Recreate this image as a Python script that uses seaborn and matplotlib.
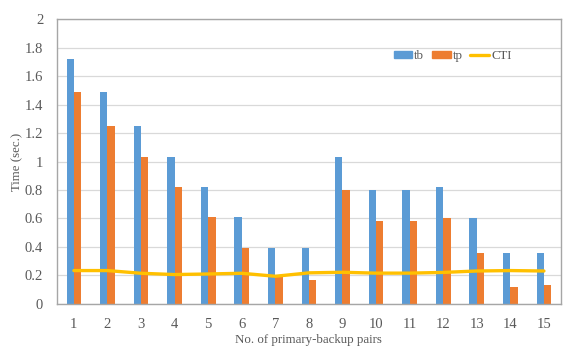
import matplotlib
matplotlib.use("Agg")
import matplotlib.pyplot as plt
import matplotlib.patches as mpatches
import matplotlib.lines as mlines
import numpy as np
import pandas as pd
import seaborn as sns

# Data
pairs = list(range(1, 16))
tb = [1.72, 1.49, 1.25, 1.03, 0.82, 0.61, 0.39, 0.39, 1.03, 0.80, 0.80, 0.82, 0.60, 0.36, 0.36]
tp = [1.49, 1.25, 1.03, 0.82, 0.61, 0.39, 0.19, 0.165, 0.80, 0.58, 0.58, 0.60, 0.36, 0.12, 0.13]
cti = [0.234, 0.234, 0.215, 0.206, 0.21, 0.215, 0.194, 0.218, 0.222, 0.216, 0.216, 0.221, 0.231, 0.234, 0.231]
y_ticks = [0, 0.2, 0.4, 0.6, 0.8, 1, 1.2, 1.4, 1.6, 1.8, 2]

COLORS = {"tb": "#5B9BD5", "tp": "#ED7D31", "CTI": "#FFC000"}
TEXT_GRAY = "#595959"
TICK_FS = 10.5
LABEL_FS = 9.3

sns.set_style("white")
plt.rcParams["font.family"] = ["Liberation Serif", "DejaVu Serif"]

df = pd.DataFrame({
    "pair": [str(p) for p in pairs] * 2,
    "time": tb + tp,
    "series": ["tb"] * len(pairs) + ["tp"] * len(pairs),
})

fig, ax = plt.subplots(figsize=(5.71, 3.55), dpi=100)
fig.subplots_adjust(left=0.1, right=0.982, top=0.946, bottom=0.144)

sns.barplot(data=df, x="pair", y="time", hue="series", order=[str(p) for p in pairs],
            palette=COLORS, width=0.44, saturation=1, linewidth=0, legend=False,
            ax=ax, zorder=2)

sns.lineplot(x=np.arange(len(pairs)), y=cti, color=COLORS["CTI"], lw=2.4, ax=ax, zorder=3)

ax.set_ylim(0, 2)
ax.set_xlim(-0.5, len(pairs) - 0.5)
ax.set_yticks(y_ticks)
ax.set_yticklabels([f"{v:g}" for v in y_ticks])
ax.yaxis.grid(True, color="#D9D9D9", lw=0.9, zorder=0)
ax.set_axisbelow(True)
for s in ax.spines.values():
    s.set_color("#A6A6A6")
    s.set_linewidth(1.0)
ax.tick_params(axis="y", length=0, labelsize=TICK_FS, colors=TEXT_GRAY, pad=10)
ax.tick_params(axis="x", length=0, labelsize=TICK_FS, colors=TEXT_GRAY, pad=10)

ax.set_xlabel("No. of primary-backup pairs", fontsize=LABEL_FS, color=TEXT_GRAY, labelpad=2)
ax.set_ylabel("Time (sec.)", fontsize=LABEL_FS, color=TEXT_GRAY, labelpad=1)

handles = [
    mpatches.Patch(color=COLORS["tb"], label="tb"),
    mpatches.Patch(color=COLORS["tp"], label="tp"),
    mlines.Line2D([], [], color=COLORS["CTI"], lw=2.4, label="CTI"),
]
leg = ax.legend(handles=handles, loc="center", bbox_to_anchor=(0.785, 0.87), ncol=3,
                frameon=False, fontsize=LABEL_FS, handlelength=1.45, handleheight=0.45,
                handletextpad=0.15, columnspacing=0.6)
for t in leg.get_texts():
    t.set_color(TEXT_GRAY)

fig.savefig("out.png", dpi=100)
